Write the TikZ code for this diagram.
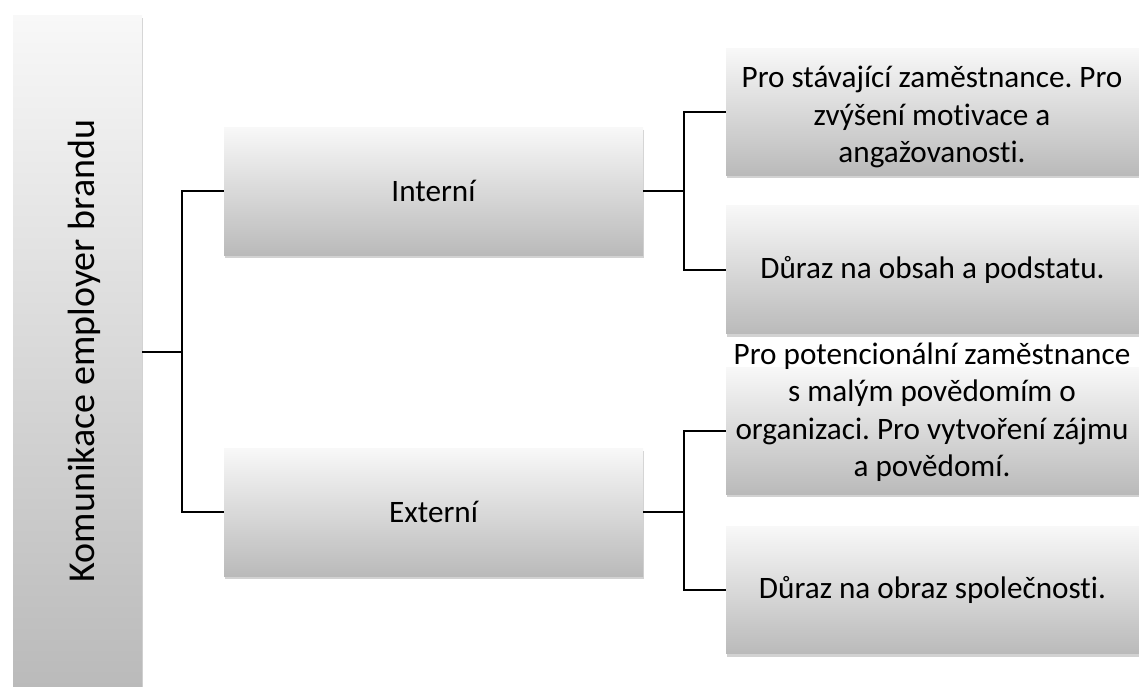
\documentclass[tikz,border=0pt]{standalone}
\usepackage{fontspec}
\setmainfont{Carlito}[Ligatures=NoCommon]
\usetikzlibrary{shadows}
\definecolor{gtop}{RGB}{248,248,248}
\definecolor{gbot}{RGB}{186,186,186}
\frenchspacing
\begin{document}
\begin{tikzpicture}[x=1pt,y=-1pt,
  box/.style={rectangle, draw=none, top color=gtop, bottom color=gbot, inner sep=0pt,
    drop shadow={shadow xshift=0.8pt, shadow yshift=-3pt, opacity=0.25, fill=black!70}},
  conn/.style={line width=2pt, black},
  lbl/.style={font=\fontsize{31.2}{37.5}\selectfont, align=center, inner sep=0pt}]
\clip (0,0) rectangle (1139,686);
\fill[white] (0,0) rectangle (1139,686);
% boxes
\node[box, minimum width=129pt, minimum height=673pt] (root) at (77.5,351.5) {};
\node[box, minimum width=419pt, minimum height=128pt] (int) at (433.5,191) {};
\node[box, minimum width=419pt, minimum height=128pt] (ext) at (433.5,512) {};
\node[box, minimum width=413pt, minimum height=127pt] (l1) at (932.5,111.5) {};
\node[box, minimum width=413pt, minimum height=128pt] (l2) at (932.5,269.5) {};
\node[box, minimum width=413pt, minimum height=127pt] (l3) at (932.5,430.5) {};
\node[box, minimum width=413pt, minimum height=127pt] (l4) at (932.5,590) {};
% texts
\node[lbl, rotate=90, font=\fontsize{38}{44}\selectfont] (troot) at (84,351) {Komunikace employer brandu};
\node[lbl] (tint) at (int.center) {Interní};
\node[lbl] (text) at (ext.center) {Externí};
\node[lbl] (t1) at (932,117) {Pro stávající zaměstnance. Pro\\zvýšení motivace a\\angažovanosti.};
\node[lbl] (t2) at (l2.center) {Důraz na obsah a podstatu.};
\node[lbl] (t3) at (932,412) {Pro potencionální zaměstnance\\s malým povědomím o\\organizaci. Pro vytvoření zájmu\\a povědomí.};
\node[lbl] (t4) at (l4.center) {Důraz na obraz společnosti.};
% connectors
\coordinate (j1) at (182,351.5);
\coordinate (j2) at (684,191);
\coordinate (j3) at (684,512);
\draw[conn] (root.east |- j1) -- (j1);
\draw[conn] (int.west) -| (j1) |- (ext.west);
\draw[conn] (int.east) -- (j2);
\draw[conn] (l1.west) -| (j2) |- (l2.west);
\draw[conn] (ext.east) -- (j3);
\draw[conn] (l3.west) -| (j3) |- (l4.west);
\end{tikzpicture}
\end{document}
